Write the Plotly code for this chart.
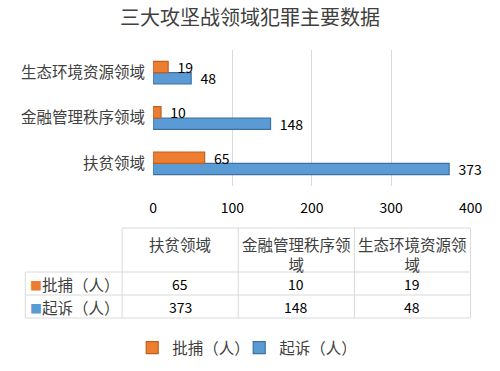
import plotly.graph_objects as go

categories = ["扶贫领域", "金融管理秩序领域", "生态环境资源领域"]
arrest = [65, 10, 19]
prosecute = [373, 148, 48]
series_names = ["批捕（人）", "起诉（人）"]
x_ticks = [0, 100, 200, 300, 400]
title_text = "三大攻坚战领域犯罪主要数据"

ORANGE = "#ED7D31"
ORANGE_EDGE = "#C0601F"
BLUE = "#5B9BD5"
BLUE_EDGE = "#3E6F9E"
GRID = "#D9D9D9"
TXT = "#404040"
CJK = "Noto Sans CJK SC, Noto Sans, sans-serif"
W, H = 500, 371
PAD = "\u00a0\u00a0"


def wrap(s, n=7):
    return "<br>".join(s[i:i + n] for i in range(0, len(s), n))


def px(x):
    return x / W


def py(y):
    return 1 - y / H


fig = go.Figure()
fig.add_trace(go.Bar(
    y=categories, x=prosecute, name=series_names[1], orientation="h",
    marker=dict(color=BLUE, line=dict(color=BLUE_EDGE, width=1.2)),
    texttemplate=PAD + "%{x}", textposition="outside", cliponaxis=False, constraintext="none",
    textfont=dict(family=CJK, size=14, color="#000000"),
))
fig.add_trace(go.Bar(
    y=categories, x=arrest, name=series_names[0], orientation="h",
    marker=dict(color=ORANGE, line=dict(color=ORANGE_EDGE, width=1.2)),
    texttemplate=PAD + "%{x}", textposition="outside", cliponaxis=False, constraintext="none",
    textfont=dict(family=CJK, size=14, color="#000000"),
))

# ---- data table below the chart (layout geometry in pixels) ----
col_edges = [22, 122, 242, 362, 482]
row_edges = [228, 272, 295, 318]
shapes = []
line = dict(color=GRID, width=1)
shapes.append(dict(type="line", xref="paper", yref="paper", x0=px(col_edges[1]), x1=px(col_edges[-1]),
                   y0=py(row_edges[0]), y1=py(row_edges[0]), line=line))
for yy in row_edges[1:]:
    shapes.append(dict(type="line", xref="paper", yref="paper", x0=px(col_edges[0]), x1=px(col_edges[-1]),
                       y0=py(yy), y1=py(yy), line=line))
shapes.append(dict(type="line", xref="paper", yref="paper", x0=px(col_edges[0]), x1=px(col_edges[0]),
                   y0=py(row_edges[1]), y1=py(row_edges[-1]), line=line))
for xx in col_edges[1:]:
    shapes.append(dict(type="line", xref="paper", yref="paper", x0=px(xx), x1=px(xx),
                       y0=py(row_edges[0]), y1=py(row_edges[-1]), line=line))

annotations = []
for i, c in enumerate(categories):
    cx = (col_edges[i + 1] + col_edges[i + 2]) / 2
    annotations.append(dict(text=wrap(c), x=px(cx), y=py(row_edges[0] + 3), xref="paper", yref="paper",
                            xanchor="center", yanchor="top", showarrow=False, align="center",
                            font=dict(family=CJK, size=15.5, color=TXT)))
series_colors = [ORANGE, BLUE]
series_vals = [arrest, prosecute]
for r, (nm, colr, vals) in enumerate(zip(series_names, series_colors, series_vals)):
    cy = (row_edges[r + 1] + row_edges[r + 2]) / 2
    annotations.append(dict(
        text=f"<span style='font-size:12px;color:{colr}'>■</span>{nm}",
        x=px(col_edges[0] + 3), y=py(cy), xref="paper", yref="paper",
        xanchor="left", yanchor="middle", showarrow=False,
        font=dict(family=CJK, size=15.5, color=TXT)))
    for i, v in enumerate(vals):
        cx = (col_edges[i + 1] + col_edges[i + 2]) / 2
        annotations.append(dict(text=str(v), x=px(cx), y=py(cy), xref="paper", yref="paper",
                                xanchor="center", yanchor="middle", showarrow=False,
                                font=dict(family=CJK, size=14, color="#000000")))

fig.update_layout(
    width=W, height=H,
    margin=dict(l=0, r=0, t=0, b=0),
    paper_bgcolor="white", plot_bgcolor="white",
    title=dict(text=title_text, x=0.5, xanchor="center", y=py(18), yanchor="middle",
               font=dict(family=CJK, size=20, color="#404040")),
    barmode="group", bargap=0.5, bargroupgap=0.0,
    xaxis=dict(domain=[px(154), px(482)], range=[0, 400], tickvals=x_ticks,
               showgrid=True, gridcolor=GRID, gridwidth=1, zeroline=False,
               showline=False, ticks="", ticklabelstandoff=12,
               tickfont=dict(family=CJK, size=14, color="#000000")),
    yaxis=dict(domain=[py(186), py(50)], type="category", showgrid=False,
               showline=False, ticks="", ticklabelstandoff=7,
               tickfont=dict(family=CJK, size=15.5, color=TXT)),
    legend=dict(orientation="h", x=0.486, xanchor="center", y=py(348), yanchor="middle",
                traceorder="reversed", entrywidth=62, entrywidthmode="pixels",
                font=dict(family=CJK, size=15.5, color=TXT)),
    showlegend=True,
    shapes=shapes,
    annotations=annotations,
)

fig.write_html("out.html")
